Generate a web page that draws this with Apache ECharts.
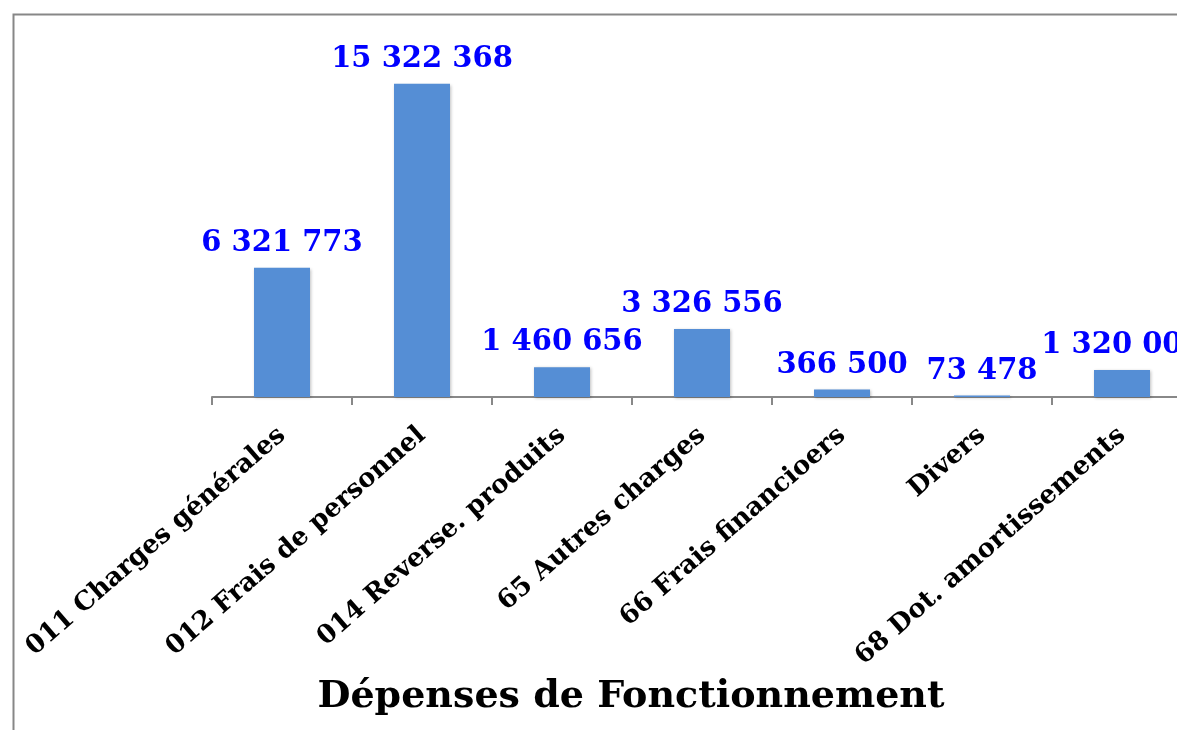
<!DOCTYPE html>
<html>
<head>
<meta charset="utf-8">
<script src="https://cdn.jsdelivr.net/npm/echarts@6/dist/echarts.min.js"></script>
<style>
  html, body { margin: 0; padding: 0; background: #fff; }
  #chart { width: 1177px; height: 730px; }
</style>
</head>
<body>
<div id="chart"></div>
<script>
// ==================== DATA ====================
const categories = [
  '011 Charges générales',
  '012 Frais de personnel',
  '014 Reverse. produits',
  '65 Autres charges',
  '66 Frais financioers',
  'Divers',
  '68 Dot. amortissements'
];
const values = [6321773, 15322368, 1460656, 3326556, 366500, 73478, 1320000];
const chartTitle = 'Dépenses de Fonctionnement';

const fmtSpace = v => String(v).replace(/\B(?=(\d{3})+(?!\d))/g, ' ');
const serif = '"DejaVu Serif", "Liberation Serif", serif';

const chart = echarts.init(document.getElementById('chart'));
chart.setOption({
  backgroundColor: '#fff',
  animation: false,
  title: {
    text: chartTitle,
    left: 626, top: 673, textAlign: 'center',
    textStyle: { fontFamily: serif, fontWeight: 'bold', fontSize: 38, color: '#000' }
  },
  graphic: [{
    type: 'rect', left: 11, top: 12, silent: true,
    shape: { width: 1300, height: 900 },
    style: { fill: 'none', stroke: '#878787', lineWidth: 2 }
  }],
  // plot runs past the right edge, as in the original export
  grid: { left: 212, width: 980, top: 70, bottom: 333, outerBoundsMode: 'none', containLabel: false },
  xAxis: {
    type: 'category', data: categories,
    axisLine: { lineStyle: { color: '#888', width: 2 } },
    axisTick: { show: true, length: 8, lineStyle: { color: '#888', width: 2 } },
    axisLabel: {
      rotate: 41, margin: 35, interval: 0, color: '#000',
      fontFamily: serif, fontWeight: 'bold', fontSize: 26
    }
  },
  yAxis: { type: 'value', min: 0, max: 16000000, show: false, splitLine: { show: false } },
  series: [{
    type: 'bar', data: values, barWidth: 56,
    itemStyle: { color: '#558ED5', shadowColor: 'rgba(0,0,0,0.25)', shadowBlur: 3, shadowOffsetX: 1, shadowOffsetY: 1 },
    label: {
      show: true, position: 'top', distance: 10, color: '#0000FF',
      fontFamily: serif, fontWeight: 'bold', fontSize: 29,
      formatter: p => fmtSpace(p.value)
    }
  }]
});
</script>
</body>
</html>
